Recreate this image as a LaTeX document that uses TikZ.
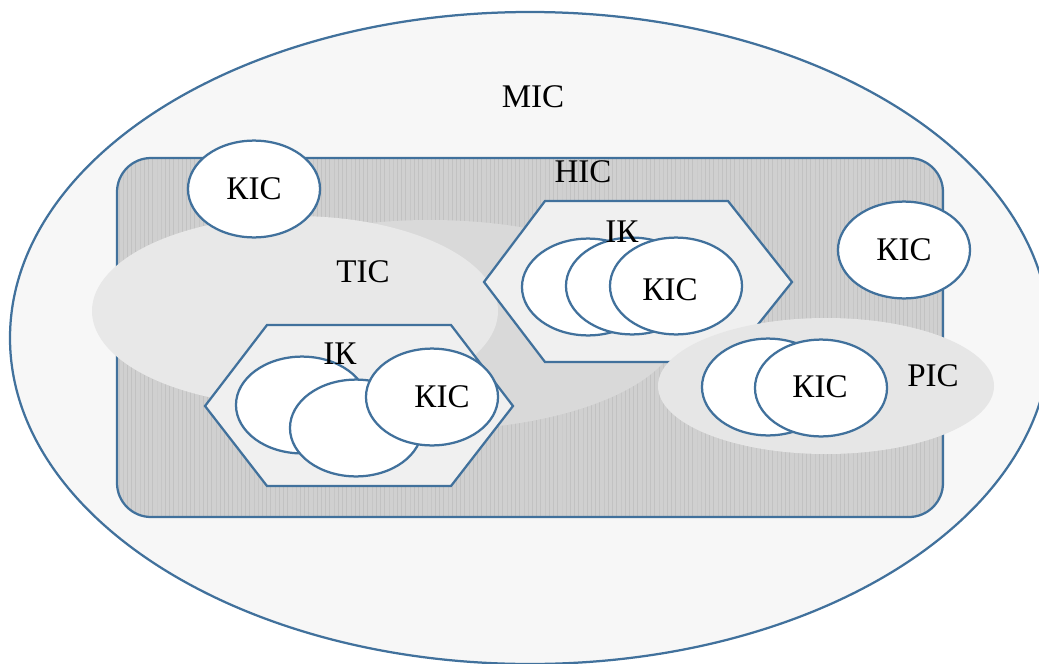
\documentclass[tikz,border=0pt]{standalone}
\usepackage{fontspec}
\setmainfont{Liberation Serif}
\usetikzlibrary{shapes.geometric,patterns}

\definecolor{rim}{RGB}{65,113,156}
\definecolor{misfill}{RGB}{247,247,247}
\definecolor{nisfill}{RGB}{208,208,208}
\definecolor{nisline}{RGB}{194,194,194}
\definecolor{tisfill}{RGB}{232,232,232}
\definecolor{tisshade}{RGB}{217,217,217}
\definecolor{hexfill}{RGB}{240,240,240}
\definecolor{risfill}{RGB}{230,230,230}

\tikzset{
  rimline/.style={draw=rim,line width=1.6pt},
  kis/.style={ellipse,rimline,fill=white,inner sep=0pt,
    minimum width=3.3cm,minimum height=2.42cm},
  txt/.style={inner sep=0pt,font=\fontsize{23.5}{28}\selectfont}
}

\begin{document}
\begin{tikzpicture}[x=0.025cm,y=-0.025cm]
  \useasboundingbox (0,0) rectangle (1039,664);

  % outer system
  \draw[rimline,fill=misfill] (530,338) ellipse [x radius=520,y radius=326];

  % national level
  \fill[nisfill,rounded corners=0.85cm] (117,158) rectangle (943,517);
  \fill[pattern=vertical lines,pattern color=nisline,rounded corners=0.85cm]
    (117,158) rectangle (943,517);
  \draw[rimline,rounded corners=0.85cm] (117,158) rectangle (943,517);

  % territorial level
  \fill[tisshade] (430,325) ellipse [x radius=250,y radius=105];
  \fill[tisfill] (295,311) ellipse [x radius=203,y radius=95];

  \node[kis] (k1) at (254,189) {};

  % upper group
  \draw[rimline,fill=hexfill]
    (545,201) -- (728,201) -- (792,282) -- (728,362) -- (545,362) -- (484,282) -- cycle;
  \node[kis] (a1) at (588,287) {};
  \node[kis] (a2) at (632,286) {};
  \node[kis] (a3) at (676,286) {};

  % lower group
  \draw[rimline,fill=hexfill]
    (267,325) -- (451,325) -- (513,406) -- (451,486) -- (267,486) -- (205,406) -- cycle;
  \node[kis] (b1) at (302,405) {};
  \node[kis] (b2) at (356,428) {};
  \node[kis] (b3) at (432,397) {};

  % regional level
  \fill[risfill] (826,386) ellipse [x radius=168,y radius=68];
  \node[kis] (c1) at (768,387) {};
  \node[kis] (c2) at (821,388) {};

  \node[kis] (k2) at (904,250) {};

  % captions
  \node[txt] (mis) at (533,97) {МІС};
  \node[txt] (nis) at (583,172) {НІС};
  \node[txt] (tis) at (363,272) {ТІС};
  \node[txt] (ris) at (933,376) {РІС};
  \node[txt] (ik1) at (622,232) {ІК};
  \node[txt] (ik2) at (340,354) {ІК};
  \node[txt] at (k1) {КІС};
  \node[txt] at (k2) {КІС};
  \node[txt] at (670,290) {КІС};
  \node[txt] at (442,397) {КІС};
  \node[txt] at (820,387) {КІС};
\end{tikzpicture}
\end{document}
